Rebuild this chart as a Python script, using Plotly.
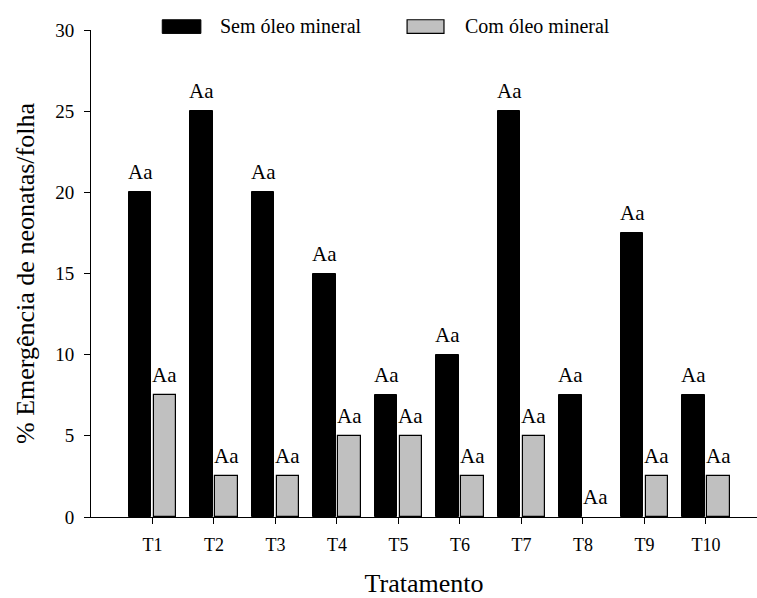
import plotly.graph_objects as go

categories = ["T1", "T2", "T3", "T4", "T5", "T6", "T7", "T8", "T9", "T10"]
sem_oleo = [20, 25, 20, 15, 7.5, 10, 25, 7.5, 17.5, 7.5]
com_oleo = [7.5, 2.5, 2.5, 5, 5, 2.5, 5, 0, 2.5, 2.5]
sem_labels = ["Aa"] * 10
com_labels = ["Aa"] * 10
series_names = ["Sem óleo mineral", "Com óleo mineral"]
y_ticks = [0, 5, 10, 15, 20, 25, 30]

FONT = "Liberation Serif"
xpos = list(range(1, len(categories) + 1))
bw = 0.365

fig = go.Figure()
fig.add_trace(go.Bar(
    x=xpos, y=sem_oleo, name=series_names[0], width=bw, offset=-0.385,
    marker=dict(color="black", line=dict(color="black", width=[1 if v > 0 else 0 for v in sem_oleo])),
    showlegend=False, hoverinfo="skip",
))
fig.add_trace(go.Bar(
    x=xpos, y=com_oleo, name=series_names[1], width=bw, offset=0.02,
    marker=dict(color="#c0c0c0", line=dict(color="black", width=[1.2 if v > 0 else 0 for v in com_oleo])),
    showlegend=False, hoverinfo="skip",
))

annotations = []
for i, x in enumerate(xpos):
    annotations.append(dict(x=x - 0.2025, y=sem_oleo[i], text=sem_labels[i], xref="x", yref="y",
                            showarrow=False, yanchor="bottom", yshift=6,
                            font=dict(family=FONT, size=21, color="black")))
    annotations.append(dict(x=x + 0.2025, y=com_oleo[i], text=com_labels[i], xref="x", yref="y",
                            showarrow=False, yanchor="bottom", yshift=6,
                            font=dict(family=FONT, size=21, color="black")))

# manual legend (wide boxes)
shapes = [
    dict(type="rect", xref="paper", yref="paper", x0=0.107, x1=0.165, y0=0.993, y1=1.021,
         fillcolor="black", line=dict(color="black", width=1)),
    dict(type="rect", xref="paper", yref="paper", x0=0.4746, x1=0.530, y0=0.993, y1=1.021,
         fillcolor="#c0c0c0", line=dict(color="black", width=1.2)),
]
annotations.append(dict(x=0.191, y=1.0075, xref="paper", yref="paper", text=series_names[0],
                        showarrow=False, xanchor="left", yanchor="middle",
                        font=dict(family=FONT, size=20, color="black")))
annotations.append(dict(x=0.5587, y=1.0075, xref="paper", yref="paper", text=series_names[1],
                        showarrow=False, xanchor="left", yanchor="middle",
                        font=dict(family=FONT, size=20, color="black")))

fig.update_layout(
    width=757, height=598,
    margin=dict(l=91, r=0, t=30, b=81),
    paper_bgcolor="white", plot_bgcolor="white",
    font=dict(family=FONT, color="black"),
    showlegend=False,
    annotations=annotations,
    shapes=shapes,
    bargap=0,
)
fig.update_xaxes(
    range=[0, 10.83], tickvals=xpos, ticktext=categories,
    showline=True, linecolor="black", linewidth=1,
    ticks="outside", ticklen=6, tickcolor="black", tickwidth=1,
    showgrid=False, zeroline=False, automargin=False,
    ticklabelstandoff=5,
    tickfont=dict(family=FONT, size=18, color="black"),
    title=dict(text="Tratamento", font=dict(family=FONT, size=26, color="black"), standoff=30),
)
fig.update_yaxes(
    range=[0, 30], tickvals=y_ticks,
    showline=True, linecolor="black", linewidth=1,
    ticks="outside", ticklen=6, tickcolor="black", tickwidth=1,
    showgrid=False, zeroline=False, automargin=False,
    ticklabelstandoff=6,
    tickfont=dict(family=FONT, size=19, color="black"),
    title=dict(text="% Emergência de neonatas/folha", font=dict(family=FONT, size=26, color="black"), standoff=13),
)

fig.write_html("out.html", config={"displayModeBar": False},
               post_script="document.body.style.margin='0';")
